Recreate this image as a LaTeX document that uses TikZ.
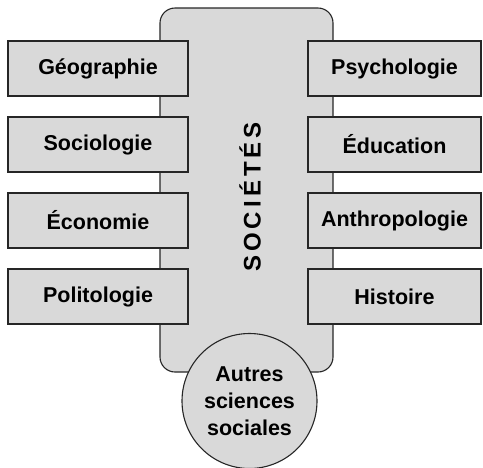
\documentclass[tikz,border=0pt]{standalone}
\usepackage{fontspec}
\setmainfont{Liberation Sans}
\usetikzlibrary{positioning}

\begin{document}
\begin{tikzpicture}[x=1pt, y=-1pt,
      node distance=21pt,
      every node/.style={font=\fontsize{21.5}{27}\selectfont\bfseries},
      core/.style={draw=black!85, line width=1.1pt, fill=black!15, rounded corners=15pt, minimum width=173pt, minimum height=364pt},
      field/.style={draw=black!85, line width=1.1pt, fill=black!15, minimum height=55pt, outer sep=0pt},
      lfield/.style={field, minimum width=180pt},
      rfield/.style={field, minimum width=173pt},
      others/.style={draw=black!85, line width=1.1pt, fill=black!15, circle, minimum size=135pt, align=center, inner sep=0pt}
    ]
    \useasboundingbox (0,0) rectangle (483,467);

    % Centre
    \node[core] (soc) at (246.5,190) {};
    \node[rotate=90, font=\fontsize{24}{28}\selectfont\bfseries\addfontfeature{LetterSpace=17}] (soclab) at (250,197) {SOCIÉTÉS};

    % Left column
    \node[lfield] (geo) at (98,68.5) {Géographie};
    \node[lfield, below=of geo] (socio) {Sociologie};
    \node[lfield, below=of socio] (eco) {Économie};
    \node[lfield, below=of eco] (poli) {Politologie};

    % Right column
    \node[rfield] (psy) at (394.5,68.5) {Psychologie};
    \node[rfield, below=of psy] (edu) {Éducation};
    \node[rfield, below=of edu] (anthro) {Anthropologie};
    \node[rfield, below=of anthro] (hist) {Histoire};

    % Bottom
    \node[others] (autres) at (249.5,401) {Autres\\sciences\\sociales};
  \end{tikzpicture}
\end{document}
